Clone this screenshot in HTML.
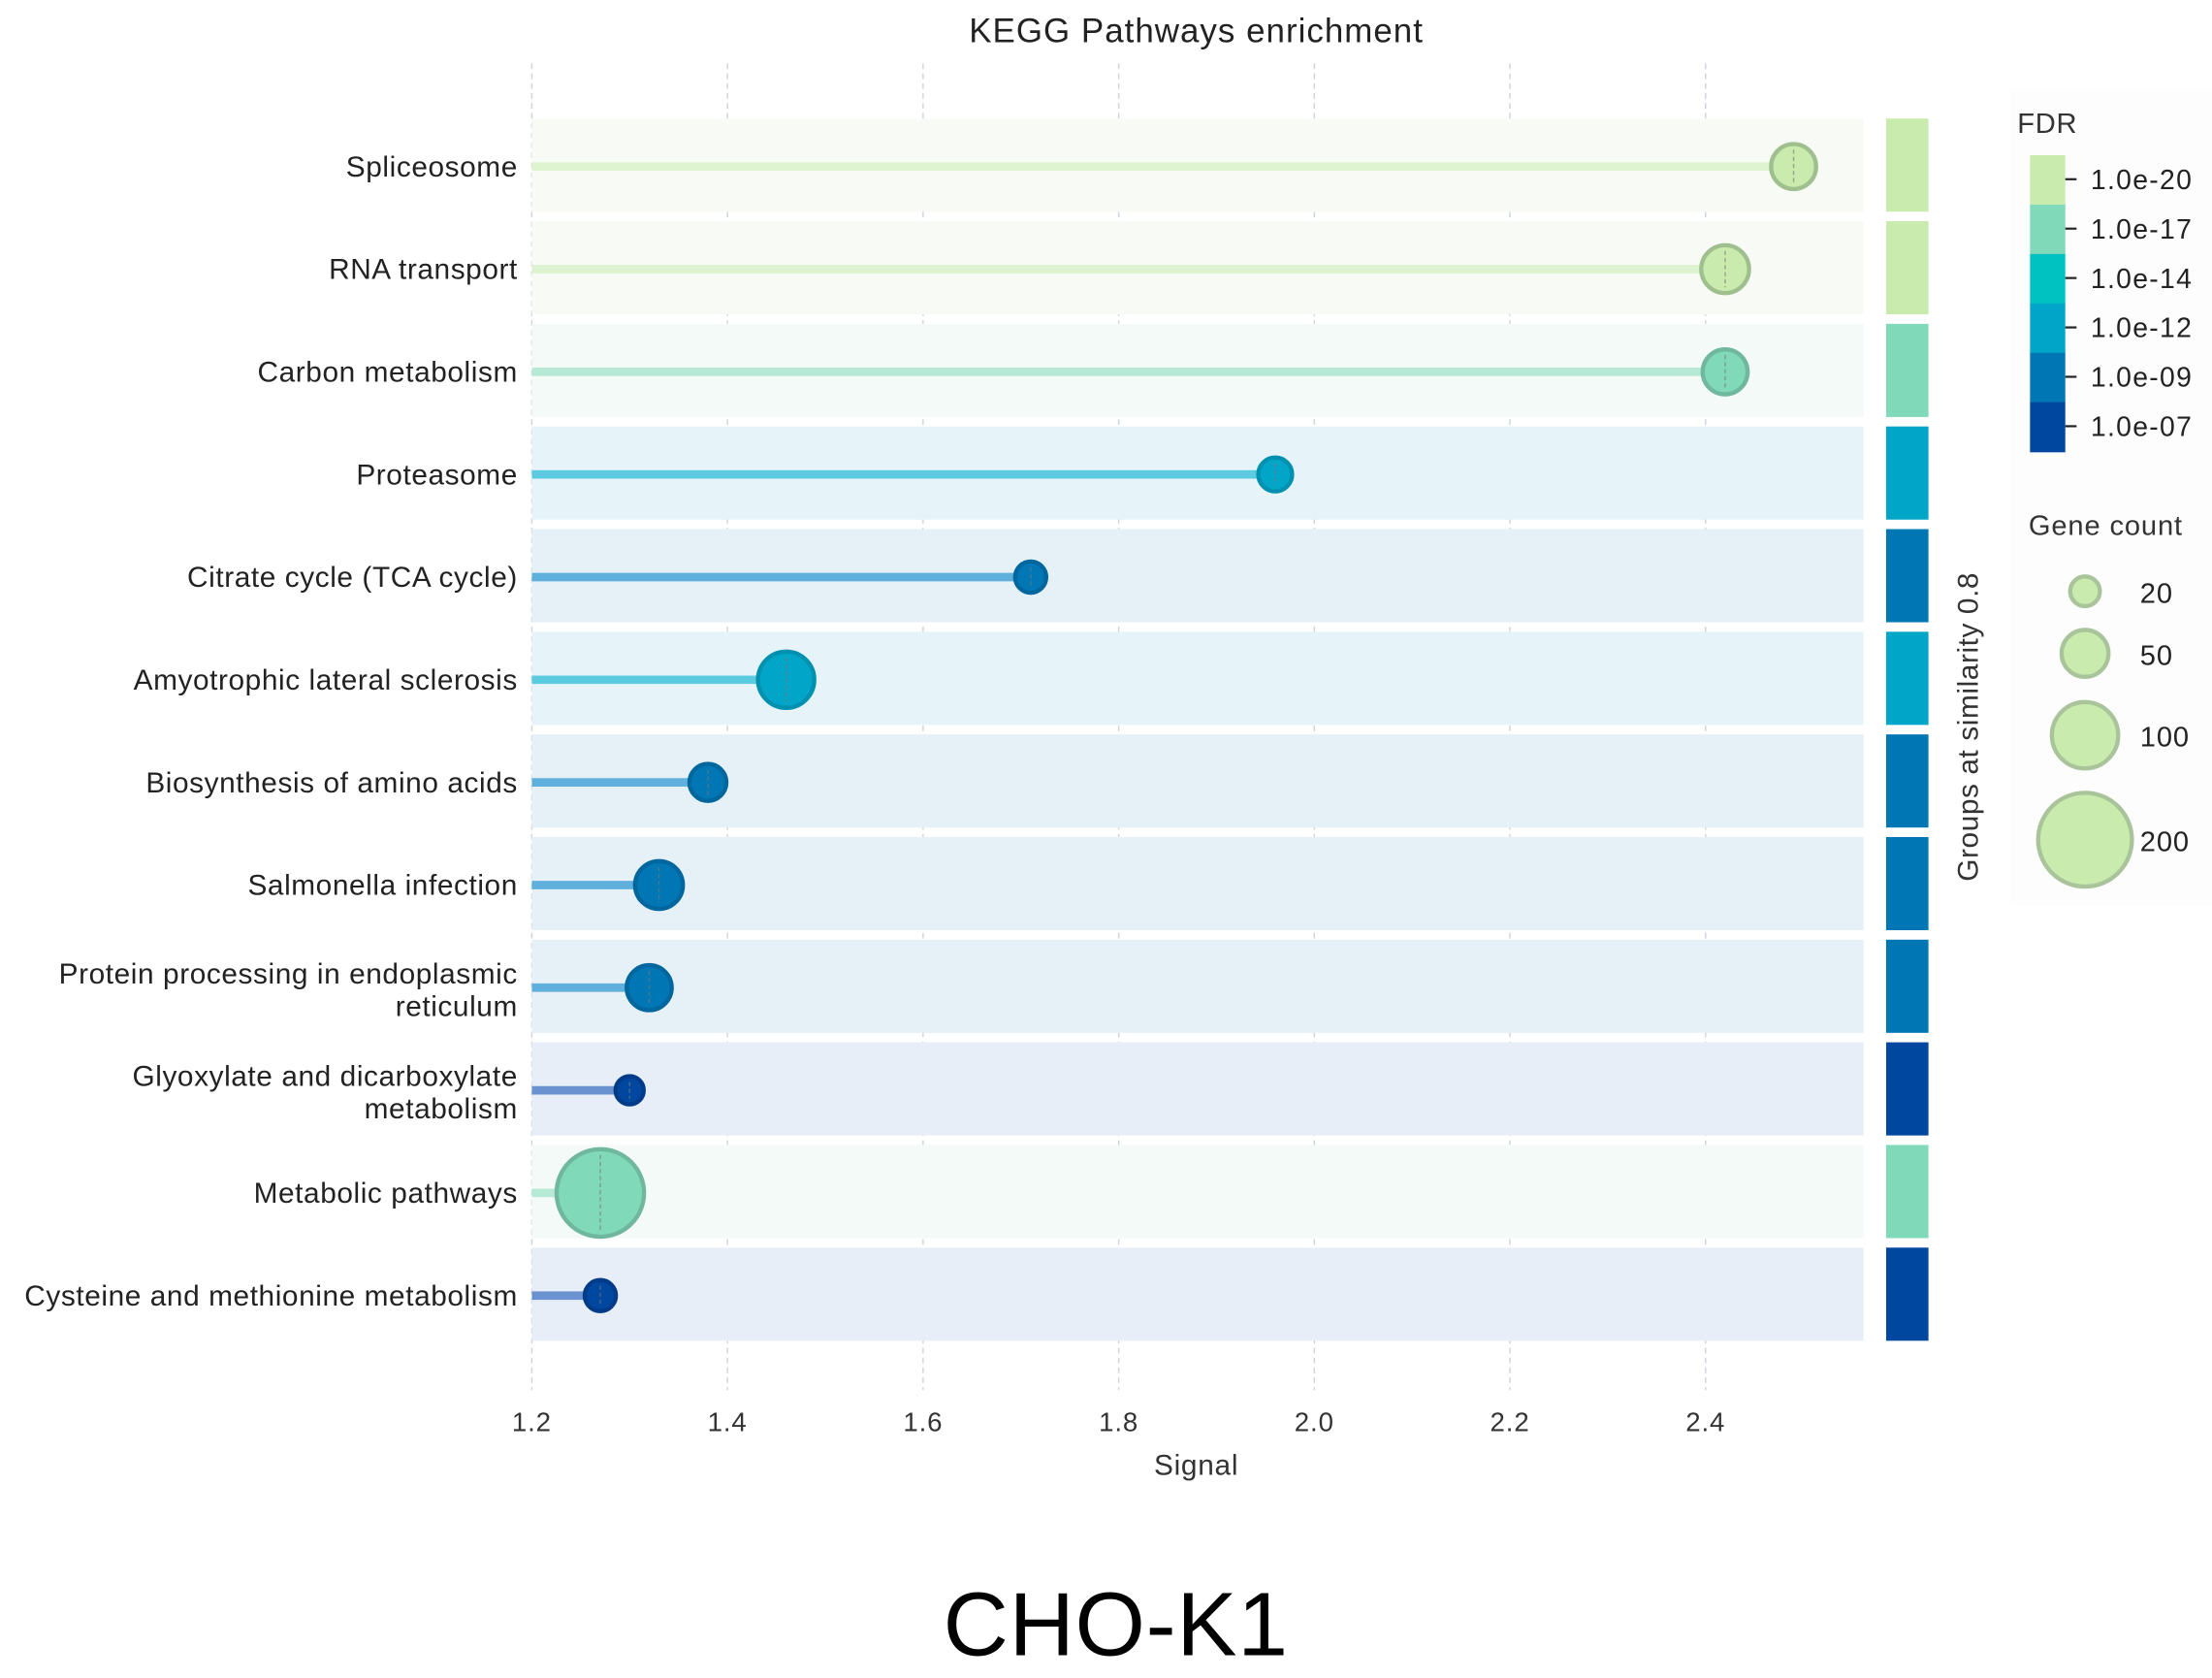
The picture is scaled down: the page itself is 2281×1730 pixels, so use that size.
<!DOCTYPE html>
<html><head><meta charset="utf-8"><style>
html,body{margin:0;padding:0;background:#fff;}
svg{display:block;font-family:"Liberation Sans",sans-serif;}
</style></head><body>
<svg id="chart" width="2281" height="1730" viewBox="0 0 1568 1189" preserveAspectRatio="none" xmlns="http://www.w3.org/2000/svg">
<text x="848" y="30" text-anchor="middle" font-size="24" letter-spacing="0.7" fill="#222">KEGG Pathways enrichment</text>
<g id="grid"></g><g id="bands"></g><g id="marks"></g><g id="ylabels"></g><g id="groups"></g><g id="xticks"></g>
<text x="848" y="1045" text-anchor="middle" font-size="20.5" letter-spacing="0.5" fill="#333">Signal</text>
<text transform="translate(1402,515) rotate(-90)" text-anchor="middle" font-size="20.5" letter-spacing="0.4" fill="#333">Groups at similarity 0.8</text>
<g id="legend">
<rect x="1425" y="62" width="143" height="580" fill="#fdfdfd"/>
<text x="1430" y="94" font-size="20" letter-spacing="0.5" fill="#333">FDR</text>
<g id="fdrbar"></g>
<text x="1438" y="379" font-size="20" letter-spacing="0.6" fill="#333">Gene count</text>
<g id="sizeleg"></g>
</g>
<text x="791" y="1173" text-anchor="middle" font-size="64" letter-spacing="0.5" fill="#000">CHO-K1</text>
</svg>
<script>
const pathways = ["Spliceosome","RNA transport","Carbon metabolism","Proteasome","Citrate cycle (TCA cycle)","Amyotrophic lateral sclerosis","Biosynthesis of amino acids","Salmonella infection","Protein processing in endoplasmic|reticulum","Glyoxylate and dicarboxylate|metabolism","Metabolic pathways","Cysteine and methionine metabolism"];
const signals = [2.49,2.42,2.42,1.96,1.71,1.46,1.38,1.33,1.32,1.30,1.27,1.27];
const geneCounts = [46,52,46,26,22,72,31,52,46,18,174,22];
const fdrClass = [0,0,1,3,4,3,4,4,4,5,1,5];
const xTicks = [1.2,1.4,1.6,1.8,2.0,2.2,2.4];
const fdrLabels = ["1.0e-20","1.0e-17","1.0e-14","1.0e-12","1.0e-09","1.0e-07"];
const sizeLegend = [20,50,100,200];

const fill = ["#c9ecae","#80d9b8","#00c2c0","#00a5c7","#0077b5","#0047a0"];
const stroke = ["#9fbf8f","#6fb79e","#009fa0","#0090b0","#00679e","#003b8a"];
const lineC = ["#def3d0","#b6ead7","#5fd4d8","#5ccbe0","#5fb0dc","#6b92d0"];
const bandC = ["#f8fbf5","#f3faf7","#e9f7f8","#e6f4f9","#e6f0f7","#e7eef7"];
const NS="http://www.w3.org/2000/svg";
const x = v => 377 + (v-1.2)/0.2*138.67;
const y = i => 118 + i*72.73;
const r = n => 2.35*Math.sqrt(n);
function mk(tag, parent, attrs){const e=document.createElementNS(NS,tag);for(const k in attrs)e.setAttribute(k,attrs[k]);document.getElementById(parent).appendChild(e);return e;}

xTicks.forEach((t,i)=>{
  const g=mk('line','grid',{x1:x(t),x2:x(t),y1:45,y2:985,stroke:'#d0d4da','stroke-width':1,'stroke-dasharray':'4,3'});
  
  
  const l=mk('text','xticks',{x:x(t),y:1014,'text-anchor':'middle','font-size':19,'letter-spacing':0.6,fill:'#333'});
  l.textContent=t.toFixed(1);
  
  
});
pathways.forEach((p,i)=>{
  const c=fdrClass[i], cy=y(i);
  const b=mk('rect','bands',{x:377,y:cy-34,width:944,height:66,fill:bandC[c]});
  
  
  const ln=mk('line','marks',{x1:377,x2:x(signals[i]),y1:cy,y2:cy,stroke:lineC[c],'stroke-width':6});
  
  
  const ci=mk('circle','marks',{cx:x(signals[i]),cy:cy,r:r(geneCounts[i]),fill:fill[c],stroke:stroke[c],'stroke-width':3});
  
  
  const d=mk('line','marks',{x1:x(signals[i]),x2:x(signals[i]),y1:cy-r(geneCounts[i])+4,y2:cy+r(geneCounts[i])-4,stroke:'#777','stroke-width':1,'stroke-dasharray':'3,2',opacity:0.6});
  
  
  const lines=p.split('|');
  const t=mk('text','ylabels',{x:367,y:lines.length>1?cy-3:cy+7,'text-anchor':'end','font-size':20.5,'letter-spacing':0.4,fill:'#222'});
  lines.forEach((s,k)=>{const ts=document.createElementNS(NS,'tspan');ts.setAttribute('x',367);if(k>0)ts.setAttribute('dy',23);ts.textContent=s;t.appendChild(ts);});
  
  
  const g=mk('rect','groups',{x:1337,y:cy-34,width:30,height:66,fill:fill[c]});
  
  
});
fdrLabels.forEach((f,i)=>{
  const yy=110+i*35;
  const rc=mk('rect','fdrbar',{x:1439,y:yy,width:25,height:35.5,fill:fill[i]});
  
  
  const tk=mk('line','fdrbar',{x1:1464,x2:1472,y1:yy+17,y2:yy+17,stroke:'#222','stroke-width':1.5});
  
  
  const tx=mk('text','fdrbar',{x:1482,y:yy+24,'font-size':19.5,'letter-spacing':0.9,fill:'#222'});
  tx.textContent=f;
  
  
});
const sy=[419,463,521,595];
sizeLegend.forEach((n,i)=>{
  const c=mk('circle','sizeleg',{cx:1478,cy:sy[i],r:r(n),fill:'#c9ecae',stroke:'#a9c49a','stroke-width':3});
  
  
  const t=mk('text','sizeleg',{x:1517,y:sy[i]+8,'font-size':20,'letter-spacing':0.6,fill:'#222'});
  t.textContent=n;
  
  
});
</script>
</body></html>
